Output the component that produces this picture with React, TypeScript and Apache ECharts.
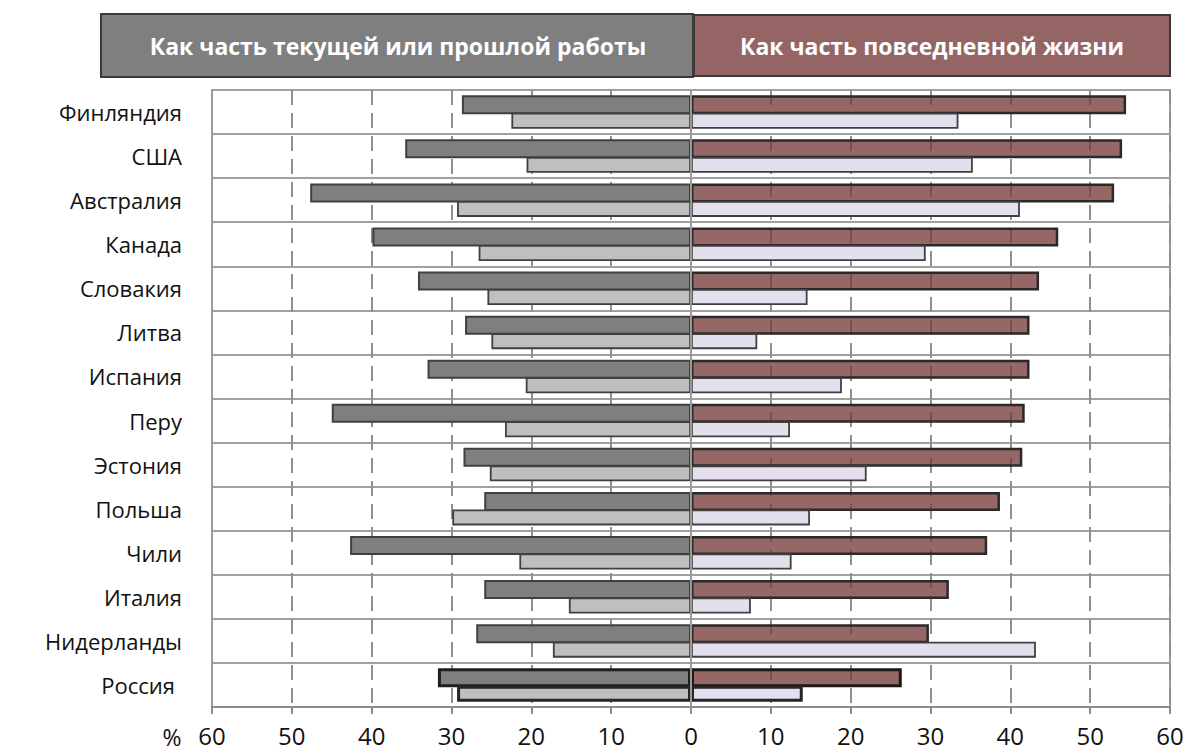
import React, { useEffect, useRef } from "react";
import * as echarts from "echarts";

const countries = [
  "Финляндия", "США", "Австралия", "Канада", "Словакия", "Литва", "Испания",
  "Перу", "Эстония", "Польша", "Чили", "Италия", "Нидерланды", "Россия",
];
// left side (work), absolute percentages
const workDark = [28.7, 35.8, 47.7, 39.9, 34.2, 28.3, 33.0, 45.0, 28.5, 25.9, 42.7, 25.9, 26.9, 31.7];
const workLight = [22.5, 20.6, 29.3, 26.6, 25.5, 25.0, 20.7, 23.3, 25.2, 29.9, 21.5, 15.3, 17.3, 29.3];
// right side (everyday life)
const lifeDark = [54.5, 54.0, 53.0, 46.0, 43.6, 42.4, 42.4, 41.8, 41.5, 38.7, 37.1, 32.3, 29.8, 26.4];
const lifeLight = [33.5, 35.3, 41.2, 29.4, 14.6, 8.3, 18.9, 12.4, 22.0, 14.9, 12.6, 7.5, 43.2, 14.0];

const headerLeft = "Как часть текущей или прошлой работы";
const headerRight = "Как часть повседневной жизни";
const unitLabel = "%";
const highlight = "Россия";

const FONT = "'Open Sans', 'Noto Sans', sans-serif";

function build(values: number[], sign: number, hiBorder: string) {
  return countries.map((c, i) => {
    const item: any = { value: sign * values[i] };
    if (c === highlight) {
      item.itemStyle = { borderWidth: 3, borderColor: hiBorder };
    }
    return item;
  });
}

export default function App() {
  const ref = useRef<HTMLDivElement>(null);
  useEffect(() => {
    if (!ref.current) return;
    const chart = echarts.init(ref.current, undefined, { renderer: "svg" });
    const darkW = 19;
    const lightW = 16;
    const gap = "-8%";
    chart.setOption({
      animation: false,
      backgroundColor: "#ffffff",
      grid: {
        left: 212,
        right: 19,
        top: 90,
        bottom: 46,
        show: true,
        borderColor: "#9a9a9a",
        borderWidth: 2,
      },
      xAxis: {
        type: "value",
        min: -60,
        max: 60,
        interval: 10,
        axisLine: { show: true, lineStyle: { color: "#8c8c8c", width: 2 } },
        axisTick: { show: true, length: 7, lineStyle: { color: "#8c8c8c", width: 2 } },
        axisLabel: {
          formatter: (v: number) => String(Math.abs(v)),
          fontFamily: FONT,
          fontSize: 24,
          color: "#111",
          margin: 16,
        },
        splitLine: {
          show: true,
          lineStyle: { color: "#8f8f8f", width: 2, type: [15, 8] },
        },
      },
      yAxis: {
        type: "category",
        inverse: true,
        data: countries,
        axisLine: { show: true, onZero: false, lineStyle: { color: "#9a9a9a", width: 2 } },
        axisTick: { show: false },
        splitLine: { show: true, lineStyle: { color: "#a0a0a0", width: 2 } },
        axisLabel: {
          fontFamily: FONT,
          fontSize: 22,
          color: "#111",
          margin: 30,
          formatter: (v: string) => (v === highlight ? `{r|${v}}` : v),
          rich: {
            r: { fontFamily: FONT, fontSize: 22, color: "#111", padding: [0, 7, 0, 0] },
          },
        },
      },
      series: [
        {
          name: "work-dark",
          type: "bar",
          stack: "dark",
          barWidth: darkW,
          barGap: gap,
          data: build(workDark, -1, "#1f1f1f"),
          itemStyle: { color: "#7f7f7f", borderColor: "#404040", borderWidth: 2 },
        },
        {
          name: "life-dark",
          type: "bar",
          stack: "dark",
          barWidth: darkW,
          barGap: gap,
          data: build(lifeDark, 1, "#1a1a1a"),
          itemStyle: { color: "rgba(120,60,60,0.78)", borderColor: "#2a2a2a", borderWidth: 2.5 },
          markLine: {
            silent: true,
            symbol: "none",
            label: { show: false },
            lineStyle: { color: "#9a9a9a", width: 2, type: "solid" },
            data: [{ xAxis: 0 }],
          },
        },
        {
          name: "work-light",
          type: "bar",
          stack: "light",
          barWidth: lightW,
          barGap: gap,
          data: build(workLight, -1, "#262626"),
          itemStyle: { color: "#bfbfbf", borderColor: "#404040", borderWidth: 1.8 },
        },
        {
          name: "life-light",
          type: "bar",
          stack: "light",
          barWidth: lightW,
          barGap: gap,
          data: build(lifeLight, 1, "#262626"),
          itemStyle: { color: "#e4dfec", borderColor: "#404040", borderWidth: 1.8 },
        },
      ],
      graphic: [
        {
          type: "rect",
          shape: { x: 101, y: 14, width: 592, height: 63 },
          style: { fill: "#7f7f7f", stroke: "#3a3a3a", lineWidth: 2 },
        },
        {
          type: "rect",
          shape: { x: 694, y: 15, width: 476, height: 61 },
          style: { fill: "#956565", stroke: "#3a3a3a", lineWidth: 2 },
        },
        {
          type: "text",
          x: 398,
          y: 46,
          style: {
            text: headerLeft,
            fill: "#ffffff",
            font: `bold 23px ${FONT}`,
            textAlign: "center",
            textVerticalAlign: "middle",
          },
        },
        {
          type: "text",
          x: 932,
          y: 46,
          style: {
            text: headerRight,
            fill: "#ffffff",
            font: `bold 23px ${FONT}`,
            textAlign: "center",
            textVerticalAlign: "middle",
          },
        },
        {
          type: "text",
          x: 172,
          y: 737,
          style: {
            text: unitLabel,
            fill: "#111",
            font: `23px ${FONT}`,
            textAlign: "center",
            textVerticalAlign: "middle",
          },
        },
      ],
    });
    return () => chart.dispose();
  }, []);
  return (
    <div
      ref={ref}
      style={{ position: "fixed", left: 0, top: 0, width: 1189, height: 753 }}
    />
  );
}
